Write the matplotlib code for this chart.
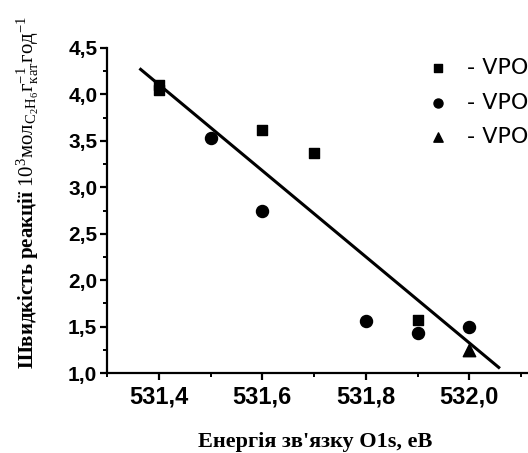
import matplotlib
matplotlib.use("Agg")
import matplotlib.pyplot as plt
import numpy as np
from matplotlib.ticker import MultipleLocator, FixedLocator, FuncFormatter

# data
sq_x = [531.4, 531.4, 531.6, 531.7, 531.9]
sq_y = [4.10, 4.05, 3.62, 3.37, 1.57]
ci_x = [531.5, 531.6, 531.8, 531.9, 532.0]
ci_y = [3.53, 2.74, 1.56, 1.43, 1.50]
tr_x = [532.0]
tr_y = [1.25]
fit_x = [531.365, 532.057]
fit_y = [4.27, 1.06]
x_ticks = [531.4, 531.6, 531.8, 532.0]
legend_labels = ["- VPO", "- VPO", "- VPO"]

plt.rcParams['mathtext.fontset'] = 'custom'
plt.rcParams['mathtext.rm'] = 'Liberation Serif'
plt.rcParams['mathtext.bf'] = 'Liberation Serif:bold'
plt.rcParams['mathtext.it'] = 'Liberation Serif:italic'

fig = plt.figure(figsize=(5.28, 4.53), dpi=100)
# axes runs past the right edge, like the cropped original
ax = fig.add_axes([107/528, 80/453, 465.75/528, 325/453])

h1 = ax.scatter(sq_x, sq_y, marker='s', s=60, color='black', zorder=3)
h2 = ax.scatter(ci_x, ci_y, marker='o', s=75, color='black', zorder=3)
h3 = ax.scatter(tr_x, tr_y, marker='^', s=80, color='black', zorder=3)
ax.plot(fit_x, fit_y, color='black', lw=2.2)

ax.set_xlim(531.3, 532.2)
ax.set_ylim(1.0, 4.5)

for side in ['top', 'right']:
    ax.spines[side].set_visible(False)
for side in ['left', 'bottom']:
    ax.spines[side].set_linewidth(1.6)

ax.xaxis.set_major_locator(FixedLocator(x_ticks))
ax.xaxis.set_minor_locator(MultipleLocator(0.1))
ax.yaxis.set_major_locator(MultipleLocator(0.5))
ax.yaxis.set_minor_locator(MultipleLocator(0.25))
ax.xaxis.set_major_formatter(FuncFormatter(lambda v, p: f"{v:.1f}".replace('.', ',')))
ax.yaxis.set_major_formatter(FuncFormatter(lambda v, p: f"{v:.1f}".replace('.', ',')))
ax.tick_params(which='major', direction='out', length=5, width=1.6)
ax.tick_params(which='minor', direction='out', length=3, width=1.4)
ax.tick_params(axis='y', pad=2)
ax.tick_params(axis='x', pad=4)
for lab in ax.get_xticklabels():
    lab.set_fontfamily('Liberation Sans')
    lab.set_fontweight('bold')
    lab.set_fontsize(17)
for lab in ax.get_yticklabels():
    lab.set_fontfamily('Liberation Sans')
    lab.set_fontweight('bold')
    lab.set_fontsize(15)

ax.set_xlabel("Енергія зв'язку O1s, еВ", fontfamily='Liberation Serif',
              fontweight='bold', fontsize=16)
ax.xaxis.set_label_coords(0.4466, -0.18)
ax.set_ylabel(r"$\mathbf{Швидкість\ реакції}\ \mathrm{10^3мол_{C_2H_6}г^{-1}_{кат}год^{-1}}$",
              fontsize=15)
ax.yaxis.set_label_coords(-0.142, 0.554)

ax.legend([h1, h2, h3], legend_labels, loc='upper left', frameon=False,
          bbox_to_anchor=(427/528, 1 - 58/453), bbox_transform=fig.transFigure,
          prop={'family': 'DejaVu Sans', 'size': 16}, markerscale=0.75,
          handletextpad=0.8, labelspacing=0.66, borderpad=0, borderaxespad=0,
          handlelength=1.0)

fig.savefig("out.png", dpi=100)
